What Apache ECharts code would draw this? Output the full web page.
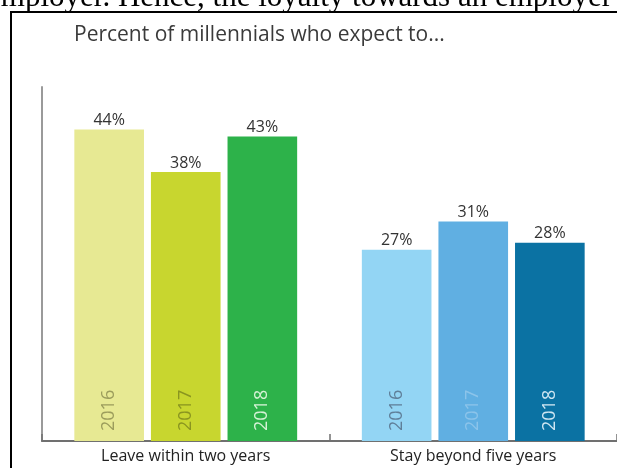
<!DOCTYPE html>
<html>
<head>
<meta charset="utf-8">
<script src="https://cdn.jsdelivr.net/npm/echarts@6/dist/echarts.min.js"></script>
<style>
html,body{margin:0;padding:0;background:#fff;}
#chart{width:617px;height:468px;}
</style>
</head>
<body>
<div id="chart"></div>
<script>
// ---- data ----
var categories = ['Leave within two years', 'Stay beyond five years'];
var years = ['2016', '2017', '2018'];
var values2016 = [44, 27];
var values2017 = [38, 31];
var values2018 = [43, 28];

// ---- styles ----
var barColors = {
  '2016': ['#e7e993', '#93d5f4'],
  '2017': ['#c8d62f', '#60afe2'],
  '2018': ['#2db24a', '#0b72a3']
};
var yearLabelColors = {
  '2016': ['#9c9d5c', '#5f7f99'],
  '2017': ['#8a9520', '#8cc4ea'],
  '2018': ['#d6f2d6', '#cfe6f2']
};

var seriesValues = { '2016': values2016, '2017': values2017, '2018': values2018 };

var chart = echarts.init(document.getElementById('chart'), null, { renderer: 'canvas' });

var font = '"Open Sans", "Noto Sans", sans-serif';
var series = [];
years.forEach(function (y) {
  series.push({
    name: y,
    type: 'bar',
    xAxisIndex: 0,
    barGap: '10%',
    barCategoryGap: '22.5%',
    data: seriesValues[y].map(function (v, i) {
      return { value: v, itemStyle: { color: barColors[y][i] } };
    }),
    label: {
      show: true,
      position: 'top',
      distance: 1,
      formatter: '{c}%',
      fontFamily: font,
      fontSize: 16,
      color: '#333'
    },
    emphasis: { disabled: true },
    z: 2
  });
});
years.forEach(function (y) {
  series.push({
    name: y + '-label',
    type: 'bar',
    xAxisIndex: 1,
    barGap: '10%',
    barCategoryGap: '22.5%',
    data: seriesValues[y].map(function (v, i) {
      return {
        value: v,
        label: { color: yearLabelColors[y][i] }
      };
    }),
    itemStyle: { color: 'rgba(0,0,0,0)' },
    label: {
      show: true,
      position: 'insideBottom',
      distance: 10,
      rotate: 90,
      align: 'left',
      verticalAlign: 'middle',
      formatter: y,
      fontFamily: font,
      fontSize: 18
    },
    emphasis: { disabled: true },
    silent: true,
    z: 3
  });
});

var option = {
  animation: false,
  backgroundColor: '#fff',
  title: {
    text: 'Percent of millennials who expect to...',
    left: 69,
    top: 20,
    textStyle: { fontFamily: font, fontSize: 21, fontWeight: 'normal', color: '#3a3a3a' }
  },
  grid: { left: 42, top: 87, width: 578, bottom: 27, containLabel: false },
  xAxis: [{
    type: 'category',
    data: categories,
    axisLine: { show: true, lineStyle: { color: '#707070', width: 2 } },
    axisTick: { show: true, inside: true, length: 7, lineStyle: { color: '#707070', width: 1.5 } },
    axisLabel: { fontFamily: font, fontSize: 16, color: '#222', margin: 7 }
  }, {
    type: 'category',
    data: categories,
    show: false
  }],
  yAxis: {
    type: 'value',
    min: 0,
    max: 50,
    axisLine: { show: true, lineStyle: { color: '#9a9a9a', width: 2 } },
    axisTick: { show: false },
    axisLabel: { show: false },
    splitLine: { show: false }
  },
  graphic: [
    {
      type: 'text',
      x: 612,
      y: 13,
      style: {
        text: 'employer. Hence, the loyalty towards an employer',
        font: '31px "Liberation Serif", "DejaVu Serif", serif',
        fill: '#000',
        align: 'right',
        verticalAlign: 'bottom'
      },
      z: 100
    },
    {
      type: 'line',
      shape: { x1: 10, y1: 12, x2: 617, y2: 12 },
      style: { stroke: '#000', lineWidth: 2 },
      z: 101
    },
    {
      type: 'line',
      shape: { x1: 11, y1: 11, x2: 11, y2: 468 },
      style: { stroke: '#000', lineWidth: 2 },
      z: 101
    }
  ],
  series: series
};
chart.setOption(option);
</script>
</body>
</html>
